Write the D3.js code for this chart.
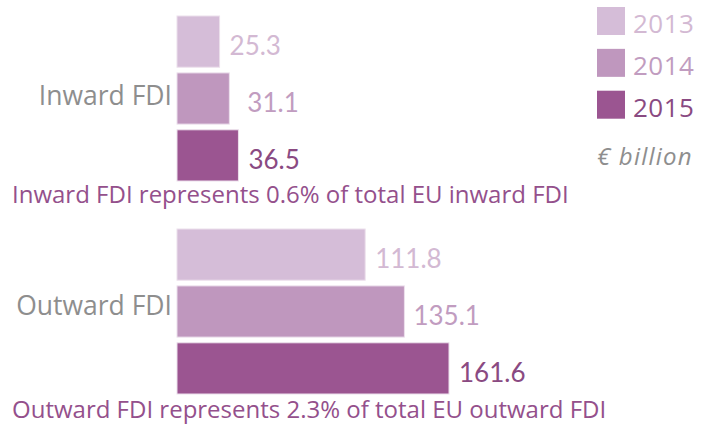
<!DOCTYPE html>
<html>
<head>
    <style>
        body { margin: 0; background: #fff; }
        .cat { font: 26.5px "Open Sans", sans-serif; fill: #8e8e8e; text-anchor: end; }
        .val { font: 26px Lato, sans-serif; }
        .note { font: 24px "Open Sans", sans-serif; fill: #94508c; }
        .leg text { font: 26px "Open Sans", sans-serif; letter-spacing: 0.5px; }
        .unit { font: italic 24px "Open Sans", sans-serif; fill: #8e8e8e; letter-spacing: 1.2px; }
    </style>
    <script src="https://d3js.org/d3.v7.min.js"></script>
</head>
<body>
    <svg width="712" height="425"></svg>
    <script>
        var years = ["2013", "2014", "2015"];
        var categories = ["Inward FDI", "Outward FDI"];
        var inward = [25.3, 31.1, 36.5];
        var outward = [111.8, 135.1, 161.6];
        var notes = ["Inward FDI represents 0.6% of total EU inward FDI",
                     "Outward FDI represents 2.3% of total EU outward FDI"];
        var unitLabel = "\u20ac billion";

        var barColor = ['#d5bdd8', '#bf97be', '#9b5591'];
        var textColor = ['#d3b9d3', '#c19cc0', '#8a4a82'];

        var svg = d3.select("svg");
        var x = d3.scaleLinear().domain([0, 161.6]).range([177, 449]);
        var y = d3.scaleBand().domain(years).range([0, 165]).paddingInner(0.1);
        var color = d3.scaleOrdinal(years, barColor);
        var tcolor = d3.scaleOrdinal(years, textColor);

        var series = [inward, outward];
        var offsets = [16, 229];
        var labelShift = [6.5, 3.5];
        var noteY = [187, 189];
        // gap between bar end and value label (the inward 2014 one sits further out)
        var valGap = [[10, 18, 10], [10, 9, 10]];

        categories.forEach(function(cat, i) {
            var g = svg.append("g").attr("transform", "translate(0," + offsets[i] + ")");
            var data = years.map(function(yr, j) { return { year: yr, value: series[i][j], gap: valGap[i][j] }; });

            g.selectAll("rect").data(data).enter().append("rect")
                .attr("x", x(0))
                .attr("y", function(d) { return y(d.year); })
                .attr("width", function(d) { return x(d.value) - x(0); })
                .attr("height", y.bandwidth())
                .attr("fill", function(d) { return color(d.year); })
                .attr("stroke", "#ece0ec").attr("stroke-width", 1);

            g.selectAll(".val").data(data).enter().append("text")
                .attr("class", "val")
                .attr("x", function(d) { return x(d.value) + d.gap; })
                .attr("y", function(d) { return y(d.year) + y.bandwidth() - 12; })
                .attr("fill", function(d) { return tcolor(d.year); })
                .text(function(d) { return d.value.toFixed(1); });

            g.append("text").attr("class", "cat")
                .attr("x", 172).attr("y", y("2014") + y.bandwidth() / 2 + labelShift[i])
                .text(cat);

            g.append("text").attr("class", "note")
                .attr("x", 12).attr("y", noteY[i])
                .text(notes[i]);
        });

        var leg = svg.append("g").attr("class", "leg");
        var ly = d3.scaleBand().domain(years).range([7, 120]).paddingInner(0.3);
        years.forEach(function(yr) {
            leg.append("rect").attr("x", 597).attr("y", ly(yr))
                .attr("width", 28).attr("height", 28)
                .attr("fill", color(yr));
            leg.append("text").attr("x", 633).attr("y", ly(yr) + 26)
                .attr("fill", tcolor(yr)).text(yr);
        });

        svg.append("text").attr("class", "unit").attr("x", 597).attr("y", 165).text(unitLabel);
    </script>
</body>
</html>
